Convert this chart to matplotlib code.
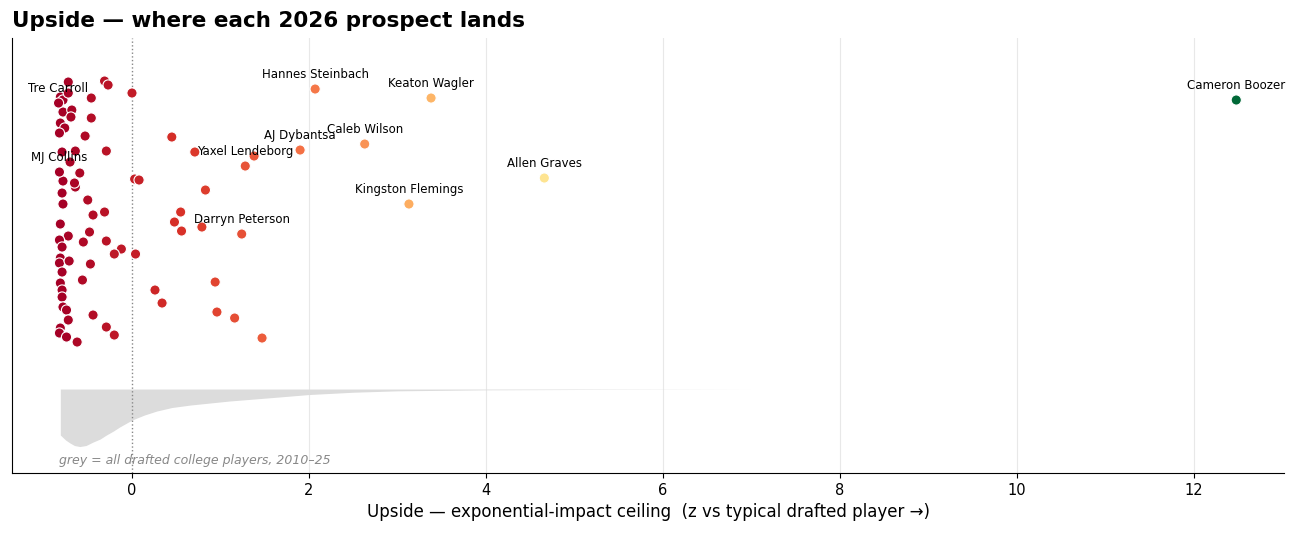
import numpy as np
import matplotlib
matplotlib.use('Agg')
import matplotlib.pyplot as plt
from matplotlib.colors import Normalize

# Named prospects: upside z-score and vertical jitter
names = ['Cameron Boozer', 'Allen Graves', 'Keaton Wagler', 'Kingston Flemings',
         'Caleb Wilson', 'Hannes Steinbach', 'AJ Dybantsa', 'Yaxel Lendeborg',
         'Darryn Peterson', 'Tre Carroll', 'MJ Collins']
name_upside = [12.48, 4.66, 3.38, 3.13, 2.63, 2.07, 1.90, 1.28, 1.24, -0.83, -0.82]
name_jitter = [2.89, 2.11, 2.91, 1.85, 2.45, 3.00, 2.39, 2.23, 1.55, 2.86, 2.17]

# Remaining (unlabelled) prospects
other_upside = [-0.72, -0.31, -0.27, 0.00, -0.81, -0.78, -0.72, -0.46, -0.78, -0.68,
                -0.69, -0.46, -0.81, -0.76, -0.82, -0.53, -0.29, -0.64, -0.79, -0.70,
                -0.59, -0.78, -0.64, -0.65, 0.03, 0.08, -0.79, -0.78, -0.50, -0.44,
                -0.31, -0.81, -0.72, -0.82, -0.79, -0.48, -0.55, -0.29, -0.12, -0.20,
                0.04, -0.81, -0.82, -0.71, -0.47, -0.79, -0.56, -0.81, -0.79, -0.79,
                -0.78, -0.74, -0.44, -0.72, -0.81, -0.82, -0.74, -0.29, -0.20, -0.62,
                0.45, 0.71, 1.38, 0.83, 0.55, 0.48, 0.56, 0.79, 0.94, 0.26,
                0.34, 0.96, 1.16, 1.47]
other_jitter = [3.07, 3.08, 3.04, 2.96, 2.92, 2.89, 2.96, 2.91, 2.77, 2.79,
                2.72, 2.71, 2.66, 2.61, 2.56, 2.53, 2.38, 2.38, 2.37, 2.27,
                2.16, 2.08, 2.02, 2.06, 2.10, 2.09, 1.96, 1.85, 1.89, 1.74,
                1.77, 1.65, 1.53, 1.49, 1.42, 1.57, 1.47, 1.48, 1.40, 1.35,
                1.35, 1.31, 1.26, 1.28, 1.25, 1.17, 1.09, 1.06, 0.99, 0.92,
                0.82, 0.79, 0.74, 0.69, 0.61, 0.56, 0.52, 0.62, 0.54, 0.47,
                2.52, 2.37, 2.33, 1.99, 1.77, 1.67, 1.58, 1.62, 1.07, 0.99,
                0.86, 0.77, 0.71, 0.51]

# Density of all drafted college players (2010-25)
dens_x = [-0.81, -0.75, -0.70, -0.65, -0.59, -0.52, -0.44, -0.36, -0.29, -0.21,
          -0.14, -0.07, 0.00, 0.14, 0.28, 0.45, 0.66, 0.88, 1.10, 1.38,
          1.66, 2.00, 2.50, 3.00, 4.00, 5.50, 7.00]
dens_y = [0.46, 0.51, 0.54, 0.565, 0.575, 0.565, 0.53, 0.50, 0.46, 0.42,
          0.38, 0.345, 0.31, 0.26, 0.22, 0.185, 0.16, 0.14, 0.12, 0.10,
          0.08, 0.055, 0.032, 0.018, 0.008, 0.003, 0.0]

x_all = np.array(other_upside + name_upside)
y_all = np.array(other_jitter + name_jitter)

fig = plt.figure(figsize=(12.98, 5.4), dpi=100)
ax = fig.add_axes([0.00925, 0.124, 0.98, 0.8056])

# grid + zero line
for gx in [2, 4, 6, 8, 10, 12]:
    ax.axvline(gx, color='#e8e8e8', lw=0.8, zorder=0)
ax.axvline(0, color='#888888', lw=1.0, ls=':', zorder=1)

# grey density drawn downward from the baseline
dx = np.array(dens_x)
dy = np.array(dens_y)
ax.fill_between(dx, 0, -dy, color='#dcdcdc', lw=0, zorder=0.5)

norm = Normalize(vmin=x_all.min(), vmax=x_all.max())
ax.scatter(x_all, y_all, c=x_all, cmap='RdYlGn', norm=norm, s=54,
           edgecolors='white', linewidths=0.8, zorder=3)

for n, xv, yv in zip(names, name_upside, name_jitter):
    ax.annotate(n, (xv, yv), xytext=(0, 6), textcoords='offset points',
                ha='center', va='bottom', fontsize=8.5, zorder=4)

ax.text(-0.82, -0.71, 'grey = all drafted college players, 2010\u201325',
        fontsize=9, style='italic', color='#888888', va='center', ha='left')

ax.set_xlim(-1.356, 13.02)
ax.set_ylim(-0.84, 3.51)
ax.set_xticks([0, 2, 4, 6, 8, 10, 12])
ax.set_yticks([])
ax.tick_params(axis='x', labelsize=10.5)
ax.spines['top'].set_visible(False)
ax.spines['right'].set_visible(False)
ax.set_xlabel('Upside \u2014 exponential-impact ceiling  (z vs typical drafted player \u2192)',
              fontsize=12)
ax.set_title('Upside \u2014 where each 2026 prospect lands', loc='left',
             fontsize=15.5, fontweight='bold', pad=8)

fig.savefig('out.png', dpi=100)
